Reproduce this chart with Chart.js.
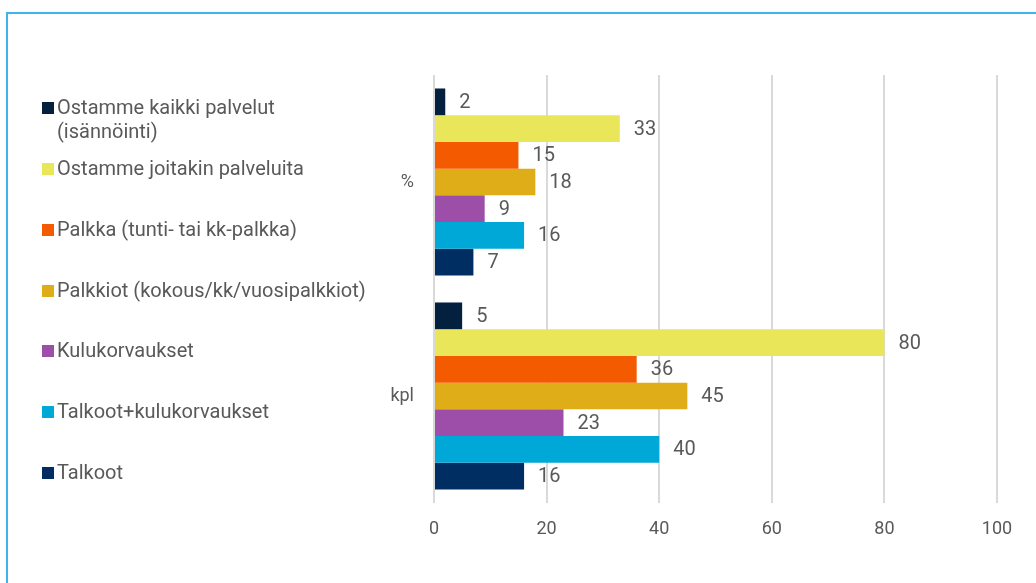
<!DOCTYPE html>
<html>
<head>
<meta charset="utf-8">
<script src="https://cdn.jsdelivr.net/npm/chart.js@4"></script>
<style>
  html, body { margin: 0; padding: 0; background: #ffffff; overflow: hidden; }
  #wrap { position: relative; width: 1036px; height: 583px; overflow: hidden; font-family: Roboto, sans-serif; }
  #frame { position: absolute; left: 6px; top: 12px; width: 1100px; height: 700px; border: 2px solid #3db5e8; box-sizing: border-box; }
  canvas { position: absolute; left: 0; top: 0; }
  #legend { position: absolute; left: 0; top: 0; }
  .item { position: absolute; left: 42px; display: flex; align-items: flex-start; color: #595959; font-size: 20px; line-height: 23.5px; white-space: nowrap; }
  .sw { width: 12px; height: 12px; margin-top: 6px; margin-right: 3px; flex: none; }
</style>
</head>
<body>
<div id="wrap">
  <div id="frame"></div>
  <canvas id="c" width="1036" height="583"></canvas>
  <div id="legend"></div>
</div>
<script>
const categories = ['%', 'kpl'];
const seriesNames = [
  ['Ostamme kaikki palvelut', '(isännöinti)'],
  ['Ostamme joitakin palveluita'],
  ['Palkka (tunti- tai kk-palkka)'],
  ['Palkkiot (kokous/kk/vuosipalkkiot)'],
  ['Kulukorvaukset'],
  ['Talkoot+kulukorvaukset'],
  ['Talkoot']
];
const ostammeKaikki = [2, 5];
const ostammeJoitakin = [33, 80];
const palkka = [15, 36];
const palkkiot = [18, 45];
const kulukorvaukset = [9, 23];
const talkootKulu = [16, 40];
const talkoot = [7, 16];
const xTicks = [0, 20, 40, 60, 80, 100];
const colors = ['#03203f', '#e9e65a', '#f45b00', '#dfad18', '#9c4ea8', '#00a8d8', '#002e62'];

const seriesValues = [ostammeKaikki, ostammeJoitakin, palkka, palkkiot, kulukorvaukset, talkootKulu, talkoot];

// HTML legend
const legend = document.getElementById('legend');
seriesNames.forEach((name, i) => {
  const d = document.createElement('div');
  d.className = 'item';
  d.style.top = (108 - 11.75 + i * 60.8) + 'px';
  const sw = document.createElement('div');
  sw.className = 'sw';
  sw.style.background = colors[i];
  const t = document.createElement('div');
  t.innerHTML = name.join('<br>');
  d.appendChild(sw); d.appendChild(t);
  legend.appendChild(d);
});

const valueLabels = {
  id: 'valueLabels',
  afterDatasetsDraw(chart) {
    const ctx = chart.ctx;
    ctx.save();
    ctx.font = '20px Roboto';
    ctx.fillStyle = '#595959';
    ctx.textAlign = 'left';
    ctx.textBaseline = 'middle';
    chart.data.datasets.forEach((ds, di) => {
      const meta = chart.getDatasetMeta(di);
      meta.data.forEach((el, i) => {
        ctx.fillText(String(ds.data[i]), el.x + 14, el.y + 1);
      });
    });
    ctx.restore();
  }
};

function draw() {
  new Chart(document.getElementById('c'), {
    type: 'bar',
    data: {
      labels: categories,
      datasets: seriesValues.map((vals, i) => ({
        label: seriesNames[i].join(' '),
        data: vals,
        backgroundColor: colors[i],
        borderWidth: 0,
        categoryPercentage: 0.874,
        barPercentage: 1
      }))
    },
    options: {
      indexAxis: 'y',
      responsive: false,
      animation: false,
      layout: { padding: { left: 380, right: 39, top: 75, bottom: 0 } },
      plugins: { legend: { display: false }, tooltip: { enabled: false } },
      scales: {
        x: {
          min: xTicks[0], max: xTicks[xTicks.length - 1],
          afterBuildTicks(scale) { scale.ticks = xTicks.map(v => ({ value: v })); },
          afterFit(scale) { scale.height = 80; },
          ticks: { color: '#595959', font: { family: 'Roboto', size: 18 }, padding: 16 },
          grid: { color: '#d9d9d9', lineWidth: 2, drawTicks: false },
          border: { display: false }
        },
        y: {
          afterFit(scale) { scale.width = 54; },
          ticks: { color: '#595959', font: { family: 'Roboto', size: 18 }, padding: 20 },
          grid: { display: false, drawTicks: false },
          border: { display: false }
        }
      }
    },
    plugins: [valueLabels]
  });
}
if (document.fonts && document.fonts.load) {
  Promise.all([document.fonts.load('18px Roboto'), document.fonts.load('20px Roboto')]).then(draw, draw);
} else { draw(); }
</script>
</body>
</html>
